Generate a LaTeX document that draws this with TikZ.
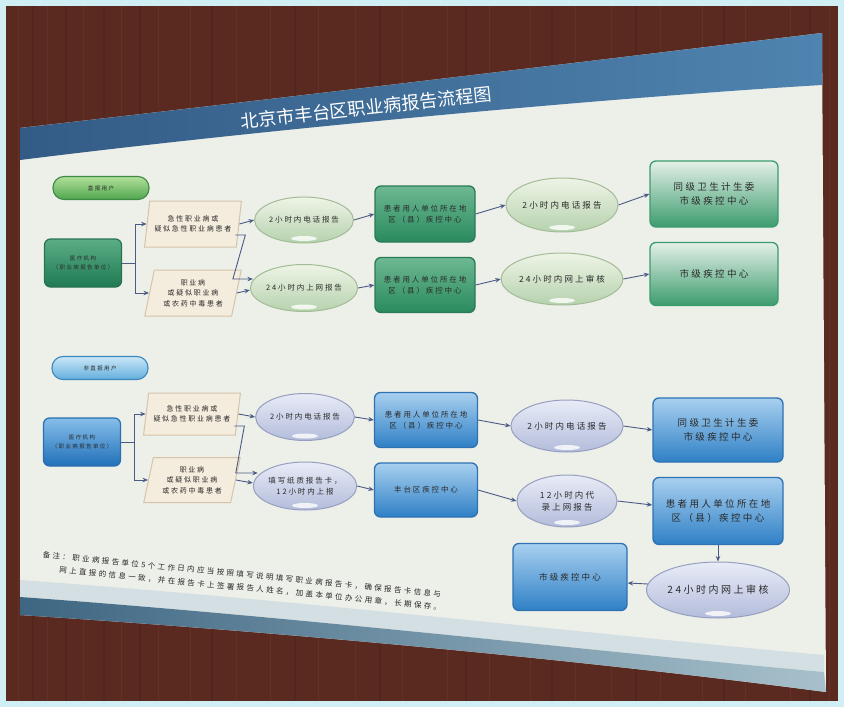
\documentclass[tikz,border=0pt]{standalone}
\usepackage{fontspec}
\newfontfamily\cjk[LetterSpace=25]{Noto Sans CJK SC}
\newfontfamily\cjkn[LetterSpace=32]{Noto Sans CJK SC}
\newfontfamily\cjkt{Noto Sans CJK SC}
\usetikzlibrary{shapes.geometric,arrows.meta,calc}
\definecolor{framec}{HTML}{CFEFF5}
\definecolor{wall}{HTML}{5A2A21}
\definecolor{wallline}{HTML}{6E3A2C}
\definecolor{walldark}{HTML}{4A221B}
\definecolor{paper}{HTML}{EDEFE9}
\definecolor{bandl}{HTML}{335B85}
\definecolor{bandr}{HTML}{4F84B0}
\definecolor{botl}{HTML}{3E6682}
\definecolor{botr}{HTML}{A7C0CB}
\definecolor{strip}{HTML}{D3DFE2}
\definecolor{arrowc}{HTML}{4B5B86}
\definecolor{txtc}{HTML}{2A2A2A}
\definecolor{gpillt}{HTML}{B2E09A}
\definecolor{gpillb}{HTML}{4FA64E}
\definecolor{gpilld}{HTML}{3D8A45}
\definecolor{bpillt}{HTML}{CBE7F7}
\definecolor{bpillb}{HTML}{62AEDD}
\definecolor{bpilld}{HTML}{3D87BA}
\definecolor{gsrct}{HTML}{5BAE86}
\definecolor{gsrcb}{HTML}{1F7A52}
\definecolor{gsrcd}{HTML}{2A7352}
\definecolor{bsrct}{HTML}{86BEEA}
\definecolor{bsrcb}{HTML}{2170B8}
\definecolor{bsrcd}{HTML}{2B6FAE}
\definecolor{paraf}{HTML}{F4ECDD}
\definecolor{parad}{HTML}{D6C4AA}
\definecolor{gellt}{HTML}{EEF4E6}
\definecolor{gellb}{HTML}{B6D2AE}
\definecolor{gelld}{HTML}{A3BC97}
\definecolor{bellt}{HTML}{E8ECF7}
\definecolor{bellb}{HTML}{B3BCDB}
\definecolor{belld}{HTML}{969FBF}
\definecolor{gboxt}{HTML}{6DB892}
\definecolor{gboxb}{HTML}{2A8A5E}
\definecolor{gboxd}{HTML}{2B7A56}
\definecolor{gboxlt}{HTML}{E4F0E7}
\definecolor{gboxlb}{HTML}{3C9C6E}
\definecolor{bboxt}{HTML}{A8D0EF}
\definecolor{bboxb}{HTML}{2F80C6}
\definecolor{bboxd}{HTML}{2F72B2}
\begin{document}
\begin{tikzpicture}[x=1pt,y=-1pt,
  arr/.style={draw=arrowc, line width=0.9pt, -{Stealth[length=5.5pt,width=4.5pt]}},
  seg/.style={draw=arrowc, line width=0.9pt},
  txtbase/.style={align=center, inner sep=0pt, text=txtc},
  pill/.style={txtbase, rounded corners=11pt, minimum width=96pt, minimum height=23pt, line width=1.1pt, font=\cjk\fontsize{5.5}{7}\selectfont},
  gpill/.style={pill, draw=gpilld, top color=gpillt, bottom color=gpillb},
  bpill/.style={pill, draw=bpilld, top color=bpillt, bottom color=bpillb},
  src/.style={txtbase, rounded corners=6pt, minimum width=77pt, minimum height=48pt, line width=1.2pt, font=\cjk\fontsize{5.5}{9}\selectfont},
  gsrc/.style={src, draw=gsrcd, top color=gsrct, bottom color=gsrcb},
  bsrc/.style={src, draw=bsrcd, top color=bsrct, bottom color=bsrcb},
  para/.style={txtbase, trapezium, trapezium left angle=75, trapezium right angle=105, trapezium stretches=true, minimum width=97pt, minimum height=46pt, fill=paraf, draw=parad, line width=1pt, font=\cjk\fontsize{7}{10.5}\selectfont},
  ell/.style={txtbase, ellipse, line width=1pt, path picture={\fill[white,opacity=0.8] ([yshift=4.5pt]path picture bounding box.south) ellipse [x radius=13pt, y radius=2.5pt];}},
  gell/.style={ell, draw=gelld, top color=gellt, bottom color=gellb},
  bell/.style={ell, draw=belld, top color=bellt, bottom color=bellb},
  box/.style={txtbase, rounded corners=6pt, line width=1.3pt},
  gbox/.style={box, draw=gboxd, top color=gboxt, bottom color=gboxb},
  gboxl/.style={box, draw=gboxlb, top color=gboxlt, bottom color=gboxlb},
  bbox/.style={box, draw=bboxd, top color=bboxt, bottom color=bboxb},
  f7/.style={font=\cjk\fontsize{7.5}{11}\selectfont},
  f9/.style={font=\cjk\fontsize{9.5}{14}\selectfont},
  f10/.style={font=\cjk\fontsize{10}{14}\selectfont},
  f8/.style={font=\cjk\fontsize{8.5}{12}\selectfont}
]
\useasboundingbox (0,0) rectangle (844,707);
% frame and wall
\fill[framec] (0,0) rectangle (844,707);
\fill[wall] (6,6) rectangle (838,701);
\foreach \x in {18,47,83,121,158,190,236,270,318,355,402,447,489,530,575,611,660,702,745,790,829}
  \draw[wallline, line width=1pt, opacity=0.45] (\x,6) -- (\x,701);
\foreach \x in {33,66,104,140,212,295,380,466,552,636,724,810}
  \draw[walldark, line width=1.2pt, opacity=0.45] (\x,6) -- (\x,701);
% poster
\fill[paper] (20,128) .. controls (300,96) and (600,60) .. (822,33) -- (826,692)
  .. controls (600,662) and (300,633) .. (20,615) -- cycle;
% title band
\shade[left color=bandl, right color=bandr] (20,128) .. controls (300,96) and (600,60) .. (822,33)
  -- (822,85) .. controls (650,95) and (300,125) .. (20,160) -- cycle;
% bottom strips
\fill[strip] (20,580) .. controls (300,600) and (600,635) .. (824,655) -- (824,672)
  .. controls (600,652) and (300,617) .. (20,597) -- cycle;
\shade[left color=botl, right color=botr] (20,597) .. controls (300,617) and (600,652) .. (824,672)
  -- (826,692) .. controls (600,662) and (300,633) .. (20,615) -- cycle;
% title
\node[text=white, font=\cjkt\fontsize{18}{20}\selectfont, rotate=6.3, inner sep=0pt] (title) at (366,108) {北京市丰台区职业病报告流程图};

% ---------- green section ----------
\node[gpill] (gl) at (101,188) {直报用户};
\node[gsrc] (g0) at (83,263) {医疗机构\\（职业病报告单位）};
\node[para] (gp1) at (193,224) {急性职业病或\\疑似急性职业病患者};
\node[para] (gp2) at (193,293) {职业病\\或疑似职业病\\或农药中毒患者};
\node[gell, f7, minimum width=78pt, minimum height=46pt] (ge1) at (304,220) {2小时内电话报告};
\node[gell, f7, minimum width=78pt, minimum height=47pt] (ge2) at (304,288) {24小时内上网报告};
\node[gbox, f7, minimum width=100pt, minimum height=56pt] (gr1) at (425,214) {患者用人单位所在地\\区（县）疾控中心};
\node[gbox, f7, minimum width=100pt, minimum height=55pt] (gr2) at (425,285) {患者用人单位所在地\\区（县）疾控中心};
\node[gell, f8, minimum width=100pt, minimum height=54pt] (ge3) at (562,205) {2小时内电话报告};
\node[gell, f8, minimum width=100pt, minimum height=52pt] (ge4) at (562,279) {24小时内网上审核};
\node[gboxl, f9, minimum width=128pt, minimum height=66pt] (gr3) at (714,194) {同级卫生计生委\\市级疾控中心};
\node[gboxl, f9, minimum width=128pt, minimum height=63pt] (gr4) at (714,274) {市级疾控中心};

\draw[seg] (g0.east) -- ++(13,0) coordinate (gj);
\draw[arr] (gj) |- (gp1.west);
\draw[arr] (gj) |- (gp2.west);
\draw[arr] (gp1.east) -- (ge1.west);
\draw[arr] ($(gp1.east)+(-4,11)$) -- ++(10,0) -- ($(ge2.west)+(-17,-9)$) -- ($(ge2.west)+(3,-9)$);
\draw[arr] (gp2.east) -- ($(ge2.west)+(0,2)$);
\draw[arr] (ge1.east) -- (gr1.west);
\draw[arr] (ge2.east) -- (gr2.west);
\draw[arr] (gr1.east) -- (ge3.west);
\draw[arr] (gr2.east) -- (ge4.west);
\draw[arr] (ge3.east) -- (gr3.west);
\draw[arr] (ge4.east) -- (gr4.west);

% ---------- blue section ----------
\node[bpill] (bl) at (100,368) {非直报用户};
\node[bsrc] (b0) at (82,442) {医疗机构\\（职业病报告单位）};
\node[para, minimum height=42pt] (bp1) at (192,414) {急性职业病或\\疑似急性职业病患者};
\node[para, minimum height=45pt] (bp2) at (192,480) {职业病\\或疑似职业病\\或农药中毒患者};
\node[bell, f7, minimum width=80pt, minimum height=47pt] (be1) at (305,417) {2小时内电话报告};
\node[bell, f7, minimum width=80pt, minimum height=48pt] (be2) at (305,486) {填写纸质报告卡，\\12小时内上报};
\node[bbox, f7, minimum width=103pt, minimum height=55pt] (br1) at (426,420) {患者用人单位所在地\\区（县）疾控中心};
\node[bbox, f7, minimum width=103pt, minimum height=54pt] (br2) at (426,490) {丰台区疾控中心};
\node[bell, f8, minimum width=100pt, minimum height=52pt] (be3) at (567,426) {2小时内电话报告};
\node[bell, f8, minimum width=100pt, minimum height=52pt] (be4) at (567,501) {12小时内代\\录上网报告};
\node[bbox, f9, minimum width=130pt, minimum height=64pt] (br3) at (718,430) {同级卫生计生委\\市级疾控中心};
\node[bbox, f9, minimum width=130pt, minimum height=67pt] (br4) at (718,511) {患者用人单位所在地\\区（县）疾控中心};
\node[bell, f10, minimum width=110pt, minimum height=56pt] (be5) at (718,590) {24小时内网上审核};
\node[bbox, f8, minimum width=114pt, minimum height=67pt] (br5) at (570,577) {市级疾控中心};

\draw[seg] (b0.east) -- ++(13,0) coordinate (bj);
\draw[arr] (bj) |- (bp1.west);
\draw[arr] (bj) |- (bp2.west);
\draw[arr] (bp1.east) -- (be1.west);
\draw[arr] ($(bp1.east)+(-4,12)$) -- ++(10,0) -- ($(be2.west)+(-17,-13)$) -- ($(be2.west)+(5,-13)$);
\draw[arr] (bp2.east) -- ($(be2.west)+(0,-3)$);
\draw[arr] (be1.east) -- (br1.west);
\draw[arr] (be2.east) -- (br2.west);
\draw[arr] (br1.east) -- (be3.west);
\draw[arr] (br2.east) -- (be4.west);
\draw[arr] (be3.east) -- (br3.west);
\draw[arr] (be4.east) -- ($(br4.west)+(0,-6)$);
\draw[arr] (br4.south) -- (be5.north);
\draw[arr] ($(be5.west)+(2,-6)$) -- ($(br5.east)+(0,6)$);

% note
\node[anchor=north west, rotate=-5.7, align=left, inner sep=0pt, text=txtc, font=\cjkn\fontsize{7.5}{13}\selectfont] (note) at (43,551)
  {备注：职业病报告单位5个工作日内应当按照填写说明填写职业病报告卡，确保报告卡信息与\\\hspace*{2.4em}网上直报的信息一致，并在报告卡上签署报告人姓名，加盖本单位办公用章，长期保存。};
\end{tikzpicture}
\end{document}
